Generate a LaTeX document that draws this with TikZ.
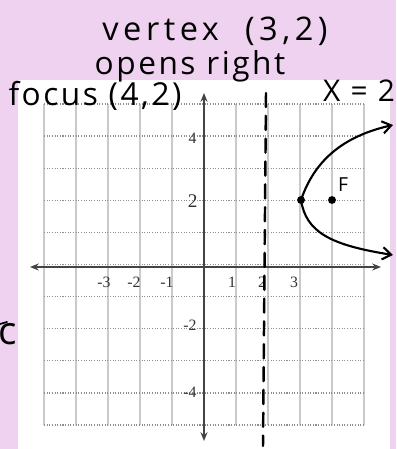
\documentclass[tikz,border=0pt]{standalone}
\usepackage{fontspec}
\usetikzlibrary{arrows.meta}
\newfontfamily\hand[LetterSpace=8]{Open Sans}
\newfontfamily\handw[LetterSpace=14]{Open Sans}
\newfontfamily\ticks{Liberation Serif}
\definecolor{lav}{HTML}{EED2EF}
\definecolor{gridv}{HTML}{CACACA}
\definecolor{gridh}{HTML}{8E8E8E}
\definecolor{axis}{HTML}{444444}
\tikzset{
  hw/.style={font=\hand\fontsize{18}{18}\selectfont, inner sep=0pt, anchor=center},
  tick/.style={font=\ticks\fontsize{9}{9}\selectfont, text=black!80, inner sep=0pt},
  axisline/.style={draw=axis, line width=0.9pt, {Stealth[length=5pt,width=4pt]}-{Stealth[length=5pt,width=4pt]}},
  pen/.style={line width=1.2pt, black, line cap=round},
  dot/.style={circle, fill=black, inner sep=0pt, minimum size=4.5pt},
}
\begin{document}
\begin{tikzpicture}[x=0.02cm,y=-0.02cm]
\useasboundingbox (0,0) rectangle (396,449);
\fill[lav] (0,0) rectangle (396,449);
\fill[white] (18,80) rectangle (390,449);
% grid
\foreach \i in {0,...,10} {
  \draw[gridv, line width=0.9pt] ({44+32*\i},104) -- ({44+32*\i},425);
}
\foreach \i in {0,...,10} {
  \draw[gridh, line width=0.7pt, dash pattern=on 0.6pt off 0.9pt] (44,{104+32.1*\i}) -- (364,{104+32.1*\i});
}
% axes
\coordinate (xl) at (30,267);
\coordinate (xr) at (381,267);
\coordinate (yt) at (204,93);
\coordinate (yb) at (204,441);
\draw[axisline] (xl) -- (xr);
\draw[axisline] (yb) -- (yt);
% tick labels
\node[tick] (tm3) at (104,282) {-3};
\node[tick] (tm2) at (134,282) {-2};
\node[tick] (tm1) at (167,282) {-1};
\node[tick] (t1) at (232,282) {1};
\node[tick] (t2) at (262,282) {2};
\node[tick] (t3) at (294,282) {3};
\node[tick, anchor=east] (y4) at (197,138) {4};
\node[tick, anchor=east, font=\ticks\fontsize{11}{11}\selectfont] (y2) at (198,201) {2};
\node[tick, anchor=east] (ym2) at (197,325) {-2};
\node[tick, anchor=east] (ym4) at (197,392) {-4};
% handwritten texts
\node[hw, font=\handw\fontsize{18.5}{18.5}\selectfont] (title) at (215,31) {vertex\ \ (3,2)};
\node[hw] (opens) at (190,66) {opens right};
\node[hw] (focus) at (95,96) {focus (4,2)};
\node[hw, font=\hand\fontsize{17}{17}\selectfont] (xeq) at (359,91) {X = 2};
\node[hw, font=\hand\fontsize{22}{22}\selectfont] (cc) at (8,334) {c};
\coordinate (cb1) at (0,324);
\coordinate (cb2) at (7,322);
\draw[pen, line width=1pt] (cb1) -- (cb2);
% directrix
\coordinate (d1) at (266,93);
\coordinate (d2) at (263,446);
\draw[pen, line width=1.4pt, dash pattern=on 8pt off 5pt] (d1) -- (d2);
% parabola
\node[dot] (V) at (301,200) {};
\node[dot] (F) at (332,200) {};
\node[font=\hand\fontsize{11}{11}\selectfont, inner sep=0pt] (Fl) at (343,185) {F};
\coordinate (up) at (393,125);
\coordinate (lo) at (393,255);
\draw[pen, -{Straight Barb[length=5pt,width=7pt]}] (V.center) .. controls (312,168) and (335,138) .. (up);
\draw[pen, -{Straight Barb[length=5pt,width=7pt]}] (V.center) .. controls (306,232) and (330,245) .. (lo);
\end{tikzpicture}
\end{document}
